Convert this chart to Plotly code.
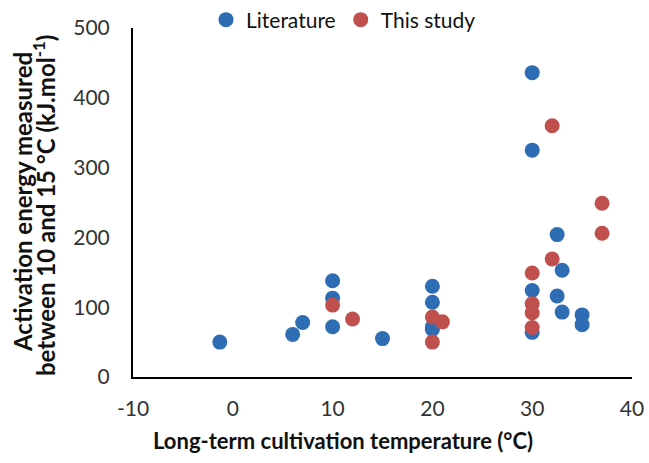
import plotly.graph_objects as go

lit_x = [-1.3, 6, 7, 10, 10, 10, 15, 20, 20, 20, 20, 30, 30, 30, 30, 32.5, 33, 32.5, 33, 35, 35]
lit_y = [50, 61, 78, 138, 113, 72, 55, 130, 107, 68, 72, 436, 325, 124, 64, 204, 153, 116, 93, 89, 75]

study_x = [10, 12, 20, 21, 20, 32, 37, 37, 32, 30, 30, 30, 30]
study_y = [103, 83, 86, 79, 50, 360, 249, 206, 169, 149, 105, 92, 71]

x_tick_vals = [-10, 0, 10, 20, 30, 40]
x_tick_text = ["-10", "0", "10", "20", "30", "40"]

x_title = "Long-term cultivation temperature (°C)"
y_title_1 = "Activation energy measured"
y_title_2 = "between 10 and 15 °C (kJ.mol<sup>-1</sup>)"

blue = "#2E6DB4"
red = "#C0504D"
font_family = "Lato, 'Open Sans', sans-serif"

W, H = 649, 463
L, R, T, B = 133, 17, 28, 86
pw, ph = W - L - R, H - T - B


def px_x(p):
    return (p - L) / pw


def px_y(p):
    return (H - B - p) / ph


fig = go.Figure()
fig.add_trace(go.Scatter(x=lit_x, y=lit_y, mode="markers", name="Literature",
                         marker=dict(color=blue, size=15, line=dict(width=0))))
fig.add_trace(go.Scatter(x=study_x, y=study_y, mode="markers", name="This study",
                         marker=dict(color=red, size=15, line=dict(width=0))))

fig.update_layout(
    width=W, height=H,
    margin=dict(l=L, r=R, t=T, b=B, autoexpand=False),
    paper_bgcolor="white", plot_bgcolor="white",
    font=dict(family=font_family, size=21, color="#333"),
    showlegend=True,
    legend=dict(orientation="h", x=px_x(206), y=1 - 20 / H, xref="paper", yref="container",
                xanchor="left", yanchor="middle", tracegroupgap=0,
                font=dict(size=21, color="#111"), itemwidth=30, bgcolor="rgba(0,0,0,0)"),
    xaxis=dict(range=[-10, 40], tickvals=x_tick_vals, ticktext=x_tick_text,
               showgrid=False, zeroline=False,
               showline=True, linecolor="black", linewidth=2, ticks="",
               ticklabelstandoff=12, tickfont=dict(size=21, color="#333")),
    yaxis=dict(range=[0, 500], dtick=100, showgrid=False, zeroline=False,
               showline=True, linecolor="black", linewidth=2, ticks="",
               ticklabelstandoff=17, tickfont=dict(size=21, color="#333")),
)

fig.add_annotation(
    text="<b>" + x_title + "</b>", xref="paper", yref="paper",
    x=px_x(343), y=px_y(440), xanchor="center", yanchor="middle",
    showarrow=False, font=dict(size=22, color="#111"))

fig.add_annotation(
    text="<b>" + y_title_1 + "</b>", xref="paper", yref="paper",
    x=px_x(22), y=px_y(202), xanchor="center", yanchor="middle",
    textangle=-90, showarrow=False, font=dict(size=24, color="#111"))

fig.add_annotation(
    text="<b>" + y_title_2 + "</b>", xref="paper", yref="paper",
    x=px_x(44), y=px_y(206), xanchor="center", yanchor="middle",
    textangle=-90, showarrow=False, font=dict(size=24, color="#111"))

fig.write_html("out.html")
